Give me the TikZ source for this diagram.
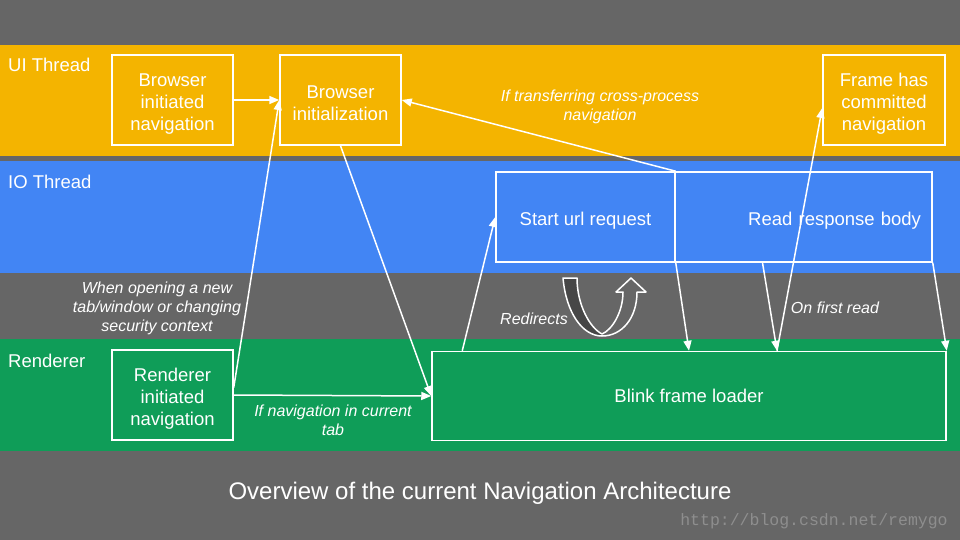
\documentclass[tikz,border=0pt]{standalone}
\usepackage{fontspec}
\setmainfont{Liberation Sans}
\newfontfamily\wmfont{Liberation Mono}
\usetikzlibrary{arrows.meta}
\definecolor{slidegrey}{HTML}{666666}
\definecolor{armgrey}{HTML}{474747}
\definecolor{wmgrey}{HTML}{8E8E8E}
\definecolor{uiyellow}{HTML}{F4B400}
\definecolor{ioblue}{HTML}{4285F4}
\definecolor{rendgreen}{HTML}{0F9D58}
\newcommand\boxstrut{\rule{0pt}{20pt}}
\begin{document}
\begin{tikzpicture}[x=1pt, y=-1pt,
  box/.style={draw=white, line width=1.5pt, text=white, align=center, inner sep=0pt, font=\fontsize{18.5}{22}\selectfont},
  lane/.style={text=white, anchor=west, inner sep=0pt, font=\fontsize{18.5}{22}\selectfont},
  note/.style={text=white, align=center, inner sep=0pt, font=\fontsize{16}{19}\selectfont\itshape},
  link/.style={draw=white, line width=1.5pt, -{Triangle[length=10pt,width=8pt]}}]
\fill [slidegrey] (0,0) rectangle (960,540);
\fill [uiyellow] (0,45) rectangle (960,156);
\fill [ioblue] (0,161) rectangle (960,273);
\fill [rendgreen] (0,339) rectangle (960,451);
\node [lane] (uilane) at (8,65) {UI Thread};
\node [lane] (iolane) at (8,182) {IO Thread};
\node [lane] (rendlane) at (8,361) {Renderer};
\node [box, minimum width=121pt, minimum height=90pt] (bin) at (172.5,100) {\boxstrut Browser\\initiated\\navigation};
\node [box, minimum width=121pt, minimum height=90pt] (bi) at (340.5,100) {\boxstrut Browser\\initialization};
\node [box, minimum width=122pt, minimum height=90pt] (fc) at (884,100) {\boxstrut Frame has\\committed\\navigation};
\node [box, minimum width=179pt, minimum height=90pt] (su) at (585.5,217) {\boxstrut Start url request};
\node [box, minimum width=257pt, minimum height=90pt, text width=235pt, align=right] (rr) at (803.5,217) {\boxstrut Read response body};
\node [box, minimum width=121pt, minimum height=90pt] (rin) at (172.5,395) {\boxstrut Renderer\\initiated\\navigation};
\node [box, minimum width=514pt, minimum height=89pt] (bl) at (689,396) {Blink frame loader};
\draw [link] (bin.east) -- (bi.west);
\draw [link] (rin.7.5) -- (bi.west);
\draw [link] (rin.east) -- (bl.west);
\draw [link] (bi.south) -- (bl.west);
\draw [link] ([xshift=31pt]bl.north west) -- (su.west);
\draw [link] (su.north east) -- (bi.east);
\draw [link] ([xshift=88pt]bl.north) -- ([yshift=-8pt]fc.west);
\draw [link] (su.south east) -- (bl.north);
\draw [link] ([xshift=-41pt]rr.south) -- ([xshift=88pt]bl.north);
\draw [link] (rr.south east) -- (bl.north east);
\node [note] (xfer) at (600,107) {If transferring cross-process\\navigation};
\node [note] (newtab) at (157,308) {When opening a new\\tab/window or changing\\security context};
\node [note] (curtab) at (333,420) {If navigation in current\\tab};
\node [note] (redir) at (534,319) {Redirects};
\node [note] (firstread) at (835,308) {On first read};
\fill [slidegrey] (563,278) .. controls (566,312) and (582,336) .. (602,336) .. controls (622,336) and (637,318) .. (637,292) -- (646,292) -- (631,278) -- (616,292) -- (623,292) .. controls (623,312) and (612,330) .. (602,334) .. controls (590,328) and (577,305) .. (577,278) -- cycle;
\fill [armgrey] (563,278) .. controls (566,312) and (582,336) .. (602,336) -- (602,334) .. controls (590,328) and (577,305) .. (577,278) -- cycle;
\draw [white, line width=1.5pt, line join=round] (563,278) .. controls (566,312) and (582,336) .. (602,336) .. controls (622,336) and (637,318) .. (637,292) -- (646,292) -- (631,278) -- (616,292) -- (623,292) .. controls (623,312) and (612,330) .. (602,334) .. controls (590,328) and (577,305) .. (577,278) -- cycle;
\node [text=white, inner sep=0pt, font=\fontsize{24}{28}\selectfont] (title) at (480,493) {Overview of the current Navigation Architecture};
\node [text=wmgrey, inner sep=0pt, font=\wmfont\fontsize{16.5}{18}\selectfont] (wm) at (814,521) {http://blog.csdn.net/remygo};
\end{tikzpicture}
\end{document}
